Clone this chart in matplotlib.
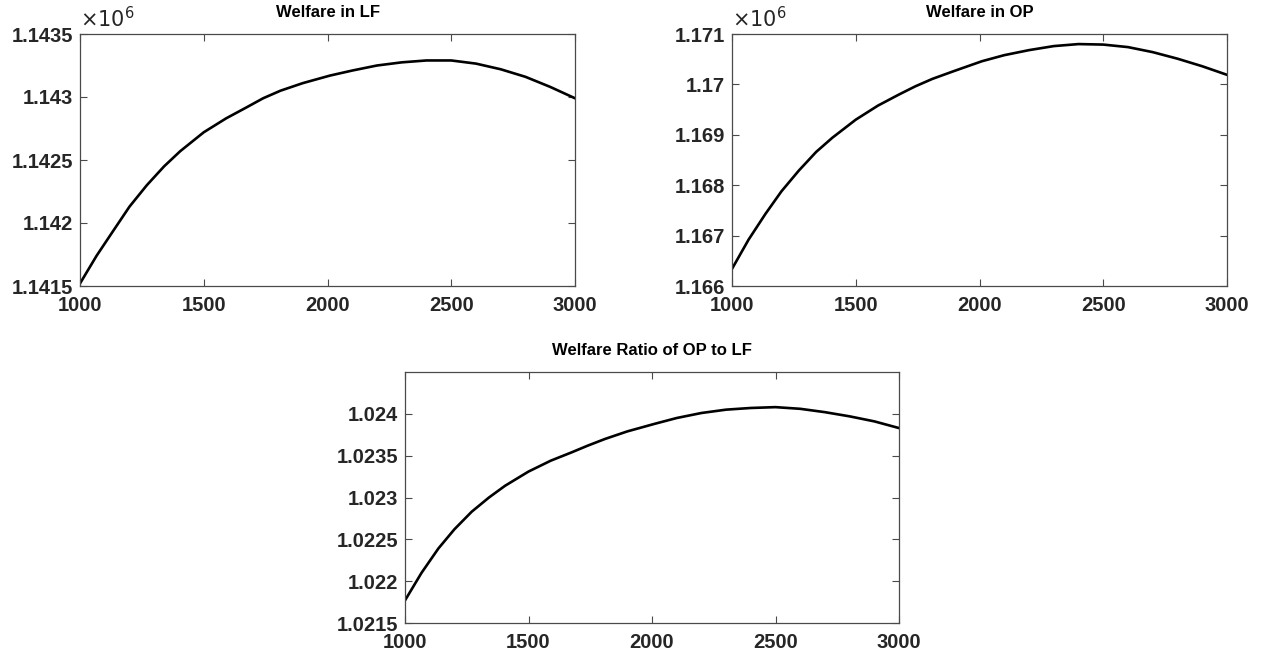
import matplotlib.pyplot as plt
from matplotlib.ticker import FuncFormatter

plt.rcParams['font.family'] = ['Liberation Sans', 'DejaVu Sans']

# values
n_points = [1000, 1067, 1135, 1200, 1270, 1340, 1405, 1500, 1590, 1675, 1740, 1810,
            1900, 2010, 2100, 2200, 2300, 2400, 2500, 2600, 2700, 2800, 2900, 3000]
welfare_lf = [1.14152e6, 1.14174e6, 1.14194e6, 1.14213e6, 1.14230e6, 1.14245e6,
              1.14257e6, 1.14272e6, 1.14283e6, 1.14292e6, 1.14299e6, 1.14305e6,
              1.14311e6, 1.14317e6, 1.14321e6, 1.14325e6, 1.143275e6, 1.14329e6,
              1.14329e6, 1.143265e6, 1.14322e6, 1.14316e6, 1.14308e6, 1.14299e6]
welfare_op = [1.16634e6, 1.16692e6, 1.16743e6, 1.16788e6, 1.16829e6, 1.16866e6,
              1.16894e6, 1.16930e6, 1.16958e6, 1.16980e6, 1.16996e6, 1.17011e6,
              1.17027e6, 1.17046e6, 1.17058e6, 1.17068e6, 1.17076e6, 1.17080e6,
              1.17079e6, 1.17074e6, 1.17064e6, 1.17051e6, 1.17036e6, 1.17019e6]
welfare_ratio = [1.02177, 1.02210, 1.02239, 1.02262, 1.02283, 1.02300,
                 1.02314, 1.02331, 1.02344, 1.02354, 1.02362, 1.02370,
                 1.02379, 1.02388, 1.02395, 1.02401, 1.02405, 1.02407,
                 1.02408, 1.02406, 1.02402, 1.02397, 1.02391, 1.02383]

x_ticks = [1000, 1500, 2000, 2500, 3000]
lf_ticks = [1.1415e6, 1.142e6, 1.1425e6, 1.143e6, 1.1435e6]
op_ticks = [1.166e6, 1.167e6, 1.168e6, 1.169e6, 1.17e6, 1.171e6]
ratio_ticks = [1.0215, 1.022, 1.0225, 1.023, 1.0235, 1.024]

AX_COL = '#4a4a4a'
TXT_COL = '#262626'

fig = plt.figure(figsize=(12.61, 6.57), dpi=100)
W, H = 1261, 657


def make_axes(left, top, right, bottom):
    return fig.add_axes([left / W, 1 - bottom / H, (right - left) / W, (bottom - top) / H])


def style_axes(ax, title, yticks, ylim, scale=1.0):
    ax.set_xlim(1000, 3000)
    ax.set_ylim(*ylim)
    ax.set_xticks(x_ticks)
    ax.set_yticks(yticks)
    ax.yaxis.set_major_formatter(FuncFormatter(lambda v, p: '%g' % round(v / scale, 6)))
    ax.xaxis.set_major_formatter(FuncFormatter(lambda v, p: '%d' % v))
    ax.tick_params(direction='in', length=5, width=0.8, color=AX_COL, top=True, right=True,
                   labelsize=14.5, labelcolor=TXT_COL)
    ax.tick_params(axis='x', pad=7)
    ax.tick_params(axis='y', pad=5)
    for lab in ax.get_xticklabels() + ax.get_yticklabels():
        lab.set_fontweight('bold')
    for s in ax.spines.values():
        s.set_color(AX_COL)
        s.set_linewidth(0.9)
    ax.set_title(title, fontsize=12, fontweight='bold', color='black', pad=12)
    if scale != 1.0:
        ax.text(0.0, 1.012, r'$\times10^{6}$', transform=ax.transAxes, fontsize=15,
                color=TXT_COL, ha='left', va='bottom')


ax1 = make_axes(80, 34, 575, 286)
ax1.plot(n_points, welfare_lf, color='black', lw=1.9)
style_axes(ax1, 'Welfare in LF', lf_ticks, (1.1415e6, 1.1435e6), scale=1e6)

ax2 = make_axes(732, 34, 1227, 286)
ax2.plot(n_points, welfare_op, color='black', lw=1.9)
style_axes(ax2, 'Welfare in OP', op_ticks, (1.166e6, 1.171e6), scale=1e6)

ax3 = make_axes(405, 372, 899, 623)
ax3.plot(n_points, welfare_ratio, color='black', lw=1.9)
style_axes(ax3, 'Welfare Ratio of OP to LF', ratio_ticks, (1.0215, 1.0245))

fig.savefig('out.png', dpi=100)
